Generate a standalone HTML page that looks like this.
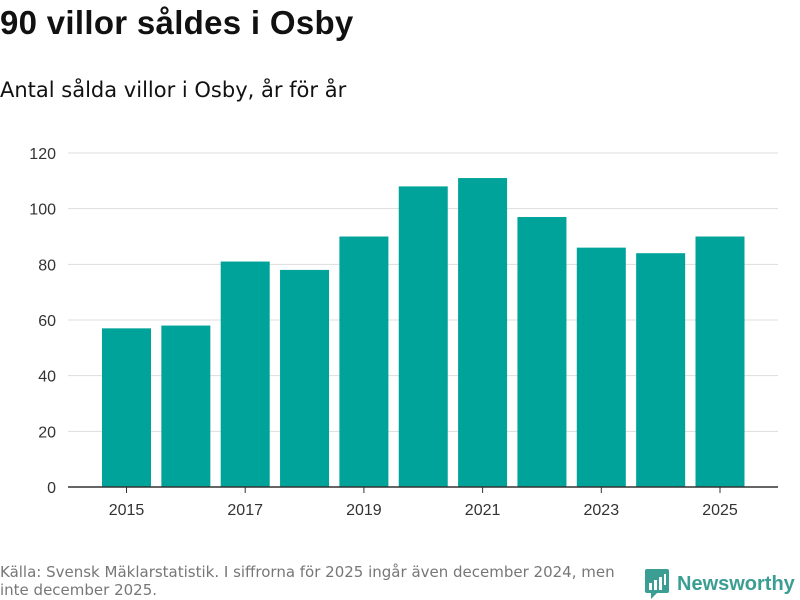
<!DOCTYPE html>
<html><head><meta charset="utf-8"><style>
body{margin:0;width:800px;height:600px;background:#fff;font-family:"Liberation Sans","DejaVu Sans",sans-serif;overflow:hidden;position:relative}
h1{position:absolute;left:0;top:4px;margin:0;font-size:33px;font-weight:bold;color:#111;letter-spacing:0.3px}
.sub{position:absolute;left:0;top:78px;font-size:21px;color:#111;font-family:"DejaVu Sans",sans-serif}
.foot{position:absolute;left:0;top:563px;font-size:15px;color:#777;line-height:18px;width:660px;font-family:"DejaVu Sans",sans-serif}
.logo{position:absolute;left:645px;top:569px;display:flex;align-items:center}
.logo span{font-size:20px;color:#3a9e92;font-weight:bold;margin-left:8px}
</style></head><body>
<h1>90 villor såldes i Osby</h1>
<div class="sub">Antal sålda villor i Osby, år för år</div>
<svg id="chart" width="800" height="560" style="position:absolute;left:0;top:0"></svg>
<div class="foot">Källa: Svensk Mäklarstatistik. I siffrorna för 2025 ingår även december 2024, men<br>inte december 2025.</div>
<div class="logo">
<svg width="24" height="30" viewBox="0 0 24 30"><path d="M0 2 Q0 0 2 0 H22 Q24 0 24 2 V22 Q24 24 22 24 H12 L6 30 V24 H2 Q0 24 0 22Z" fill="#3a9e92"/><rect x="4" y="14" width="3" height="7" fill="#fff"/><rect x="9" y="11" width="3" height="10" fill="#fff"/><rect x="14" y="8" width="3" height="13" fill="#fff"/><rect x="19" y="5" width="2" height="11" fill="#fff"/></svg>
<span>Newsworthy</span></div>
<script>
const years=[2015,2016,2017,2018,2019,2020,2021,2022,2023,2024,2025];
const values=[57,58,81,78,90,108,111,97,86,84,90];
const yTicks=[0,20,40,60,80,100,120];
const svg=document.getElementById('chart');
const NS='http://www.w3.org/2000/svg';
const y0=487,y1=153,x0=126.5,step=59.35,bw=49;
const yS=v=>y0-(v/120)*(y0-y1);
const xS=i=>x0+i*step;
function mk(t,a){const e=document.createElementNS(NS,t);for(const k in a)e.setAttribute(k,a[k]);svg.appendChild(e);return e;}
yTicks.forEach(t=>{
 const l=mk('line',{x1:68,x2:778,y1:yS(t),y2:yS(t),stroke:'#ddd','stroke-width':1});
 
 
 const tx=mk('text',{x:56,y:yS(t)+6,'text-anchor':'end','font-size':16,fill:'#333'});
 tx.textContent=t;
 
 
});
values.forEach((v,i)=>{
 const r=mk('rect',{x:xS(i)-bw/2,y:yS(v),width:bw,height:y0-yS(v),fill:'#00a39a'});
 
 
});
const ax=mk('line',{x1:68,x2:778,y1:y0,y2:y0,stroke:'#333','stroke-width':1.5});


years.forEach((yr,i)=>{
 if(i%2)return;
 const tk=mk('line',{x1:xS(i),x2:xS(i),y1:y0,y2:y0+6,stroke:'#333'});
 
 
 const tx=mk('text',{x:xS(i),y:y0+28,'text-anchor':'middle','font-size':16,fill:'#333'});
 tx.textContent=yr;
 
 
});
</script>
</body></html>
